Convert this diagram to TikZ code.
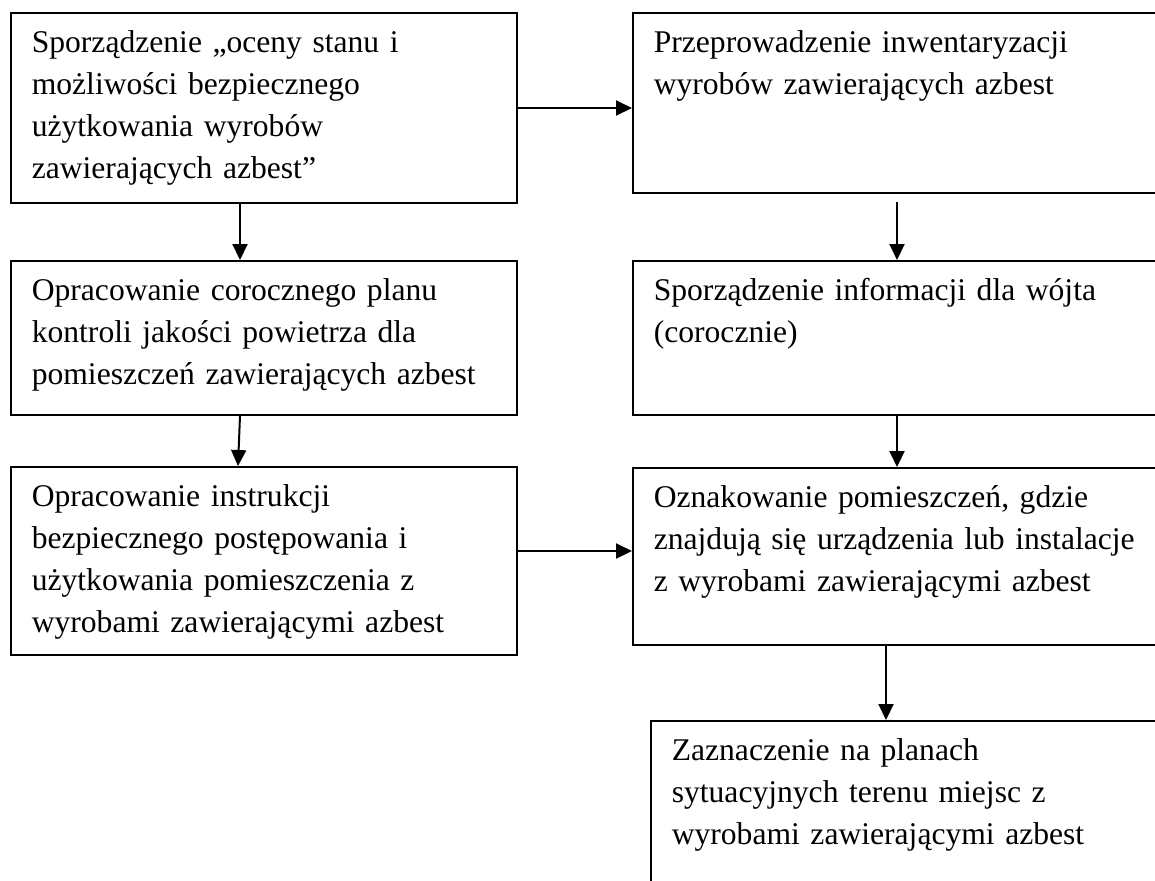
\documentclass[tikz,border=0pt]{standalone}
\usepackage{fontspec}
\setmainfont{Liberation Serif}
\usetikzlibrary{arrows.meta}

\tikzset{
  krok/.style={draw, line width=0.8pt, anchor=north west, inner xsep=10.5pt, inner ysep=0pt,
    text height=20pt, align=left, font=\fontsize{15.8pt}{21pt}\selectfont},
  strzalka/.style={line width=1pt, -{Triangle[length=8pt,width=7.5pt]}}
}

\begin{document}
\begin{tikzpicture}[x=0.5pt,y=-0.5pt]
\useasboundingbox (0,0) rectangle (1155,880);
\clip (0,0) rectangle (1155,880);

\def \LeftX {10};
\def \RightX {632};

%lewa kolumna
\node[krok, text width=232pt, text depth=75pt] (ocena) at (\LeftX,12)
  {Sporządzenie „oceny stanu i\\możliwości bezpiecznego\\użytkowania wyrobów\\zawierających azbest”};
\node[krok, text width=232pt, text depth=57pt] (plan) at (\LeftX,260)
  {Opracowanie corocznego planu\\kontroli jakości powietrza dla\\pomieszczeń zawierających azbest};
\node[krok, text width=232pt, text depth=74pt] (instr) at (\LeftX,466)
  {Opracowanie instrukcji\\bezpiecznego postępowania i\\użytkowania pomieszczenia z\\wyrobami zawierającymi azbest};

%prawa kolumna (ucięta z prawej)
\node[krok, text width=250pt, text depth=70pt] (inwent) at (\RightX,12)
  {Przeprowadzenie inwentaryzacji\\wyrobów zawierających azbest};
\node[krok, text width=250pt, text depth=57pt] (info) at (\RightX,260)
  {Sporządzenie informacji dla wójta\\(corocznie)};
\node[krok, text width=250pt, text depth=68.5pt] (oznak) at (\RightX,467)
  {Oznakowanie pomieszczeń, gdzie\\znajdują się urządzenia lub instalacje\\z wyrobami zawierającymi azbest};
\node[krok, text width=241pt, text depth=80pt] (plany) at (650,720)
  {Zaznaczenie na planach\\sytuacyjnych terenu miejsc z\\wyrobami zawierającymi azbest};

%linie strzalek
\coordinate (w1) at (0,108);
\coordinate (w2) at (0,551);
\coordinate (kL) at (240,0);
\coordinate (kL2) at (238,0);
\coordinate (kP) at (897,0);
\coordinate (kZ) at (886,0);

\draw[strzalka] (ocena.east |- w1) -- (inwent.west |- w1);
\draw[strzalka] (ocena.south -| kL) -- (plan.north -| kL);
\draw[strzalka] (plan.south -| kL) -- (instr.north -| kL2);
\draw[strzalka] (instr.east |- w2) -- (oznak.west |- w2);
\draw[strzalka, shorten <=4pt] (inwent.south -| kP) -- (info.north -| kP);
\draw[strzalka] (info.south -| kP) -- (oznak.north -| kP);
\draw[strzalka] (oznak.south -| kZ) -- (plany.north -| kZ);

\end{tikzpicture}
\end{document}
